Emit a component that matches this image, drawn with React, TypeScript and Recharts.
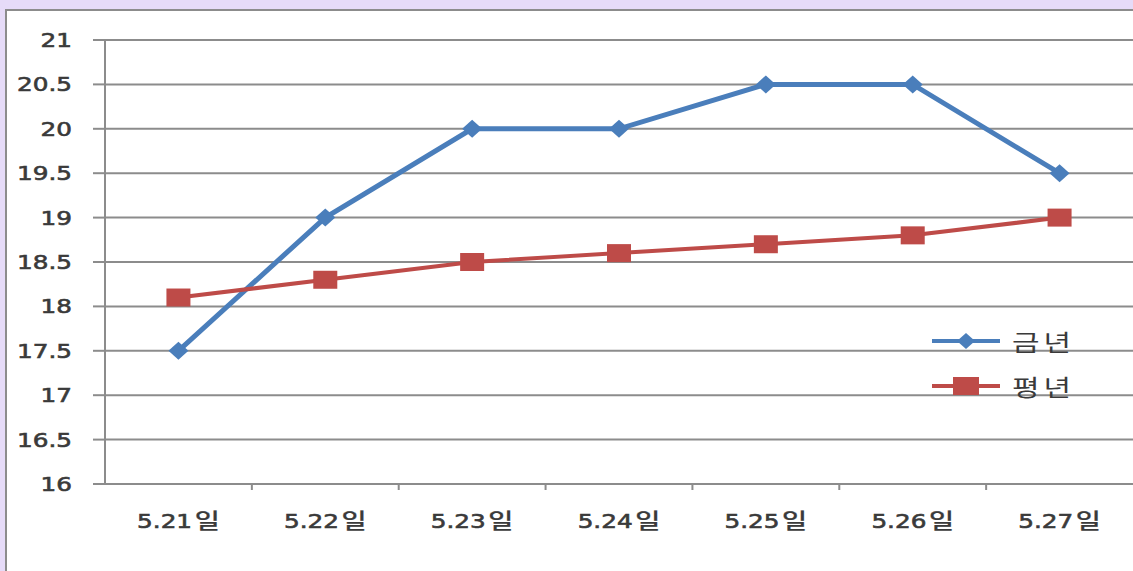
import { LineChart, Line, XAxis, YAxis, CartesianGrid } from "recharts";

const days = ["5.21일", "5.22일", "5.23일", "5.24일", "5.25일", "5.26일", "5.27일"];
const thisYear = [17.5, 19, 20, 20, 20.5, 20.5, 19.5];
const normalYear = [18.1, 18.3, 18.5, 18.6, 18.7, 18.8, 19.0];
const yTicks = [16, 16.5, 17, 17.5, 18, 18.5, 19, 19.5, 20, 20.5, 21];

const data = days.map((day, i) => ({ day, 금년: thisYear[i], 평년: normalYear[i] }));

const W = 1133;
const H = 571;
const Y_AXIS_W = 105;
const PLOT_W = W - Y_AXIS_W;
const BAND = PLOT_W / days.length;
const STRETCH = 1.3;

const BLUE = "#4a7ebb";
const RED = "#be4b48";
const GRID = "#8c8c8c";
const TEXT = "#3a3a3a";
const NUM_FONT = "'DejaVu Sans', sans-serif";
const KR_FONT = "'Noto Sans CJK KR', sans-serif";

const Diamond = (props: any) => {
  const { cx, cy } = props;
  if (cx == null || cy == null) return null;
  return <polygon points={`${cx},${cy - 9} ${cx + 10},${cy} ${cx},${cy + 9} ${cx - 10},${cy}`} fill={BLUE} />;
};

const Square = (props: any) => {
  const { cx, cy } = props;
  if (cx == null || cy == null) return null;
  return <rect x={cx - 12} y={cy - 9} width={24} height={18} fill={RED} />;
};

const DayTick = (props: any) => {
  const { x, y, payload, index } = props;
  const left = x - BAND / 2;
  const label = String(payload.value);
  const num = label.replace("일", "");
  return (
    <g>
      {index > 0 && <line x1={left} x2={left} y1={y - 8} y2={y - 2} stroke={GRID} strokeWidth={2} />}
      <text
        transform={`translate(${x},${y + 36}) scale(${STRETCH},1)`}
        textAnchor="middle"
        fill={TEXT}
        stroke={TEXT}
        strokeWidth={0.6}
      >
        <tspan fontFamily={NUM_FONT} fontSize={19}>
          {num}
        </tspan>
        <tspan fontFamily={KR_FONT} fontWeight={500} fontSize={21} dx={2} strokeWidth={0.2}>
          일
        </tspan>
      </text>
    </g>
  );
};

const ValueTick = (props: any) => {
  const { x, y, payload } = props;
  return (
    <text
      transform={`translate(${x},${y + 7}) scale(${STRETCH},1)`}
      textAnchor="end"
      fill={TEXT}
      stroke={TEXT}
      strokeWidth={0.6}
      fontFamily={NUM_FONT}
      fontSize={19}
    >
      {String(payload.value)}
    </text>
  );
};

const legendItems = [
  { name: "금년", color: BLUE, marker: "diamond" },
  { name: "평년", color: RED, marker: "square" },
];

const App = () => {
  return (
    <div style={{ position: "fixed", left: 0, top: 0, width: W, height: H, background: "#e6dbf8", overflow: "hidden" }}>
      <div
        style={{
          position: "absolute",
          left: 5,
          top: 9,
          width: W,
          height: H,
          background: "#fff",
          borderLeft: `2px solid ${GRID}`,
          borderTop: `2px solid ${GRID}`,
        }}
      />
      <div style={{ position: "absolute", left: 0, top: 0 }}>
        <LineChart width={W} height={H} data={data} margin={{ top: 40, right: 0, bottom: 0, left: 0 }}>
          <CartesianGrid vertical={false} stroke={GRID} strokeWidth={2} />
          <XAxis
            dataKey="day"
            height={87}
            padding={{ left: BAND / 2, right: BAND / 2 }}
            axisLine={{ stroke: GRID, strokeWidth: 2 }}
            tickLine={false}
            tick={<DayTick />}
            interval={0}
          />
          <YAxis
            domain={[16, 21]}
            ticks={yTicks}
            width={Y_AXIS_W}
            tickSize={12}
            tickMargin={21}
            axisLine={{ stroke: GRID, strokeWidth: 2 }}
            tickLine={{ stroke: GRID, strokeWidth: 2 }}
            tick={<ValueTick />}
          />
          <Line dataKey="금년" stroke={BLUE} strokeWidth={5} dot={<Diamond />} activeDot={false} isAnimationActive={false} />
          <Line dataKey="평년" stroke={RED} strokeWidth={4} dot={<Square />} activeDot={false} isAnimationActive={false} />
        </LineChart>
      </div>
      <div
        style={{
          position: "absolute",
          left: 930,
          top: 318,
          fontFamily: KR_FONT,
          fontSize: 23,
          fontWeight: 400,
          color: TEXT,
        }}
      >
        {legendItems.map((item) => (
          <div key={item.name} style={{ display: "flex", alignItems: "center", height: 45 }}>
            <svg width={72} height={24}>
              <line x1={2} x2={70} y1={12} y2={12} stroke={item.color} strokeWidth={4} />
              {item.marker === "diamond" ? (
                <polygon points="36,4 45,12 36,20 27,12" fill={item.color} />
              ) : (
                <rect x={23} y={3} width={26} height={18} fill={item.color} />
              )}
            </svg>
            <span
              style={{
                display: "inline-block",
                marginLeft: 10,
                letterSpacing: 3,
                transform: `scaleX(${STRETCH})`,
                transformOrigin: "left center",
              }}
            >
              {item.name}
            </span>
          </div>
        ))}
      </div>
    </div>
  );
};

export default App;
